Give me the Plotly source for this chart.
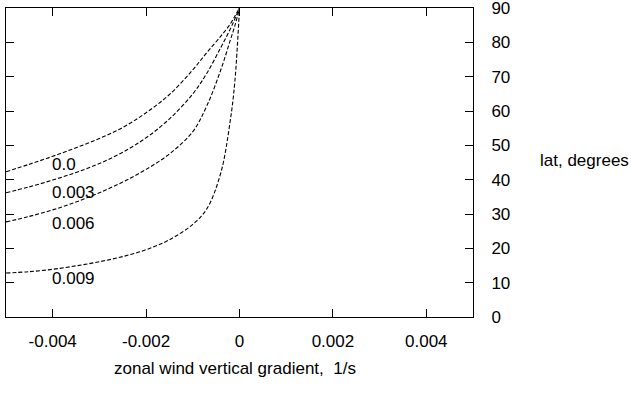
import plotly.graph_objects as go

# shared x grid (zonal wind vertical gradient, 1/s)
grad = [-0.005, -0.0045, -0.004, -0.0035, -0.003, -0.0025, -0.002, -0.0015,
        -0.001, -0.0007, -0.0004, -0.0002, -0.0001, 0.0]

lat_000 = [42.3, 44.5, 46.8, 49.3, 52.0, 55.2, 59.5, 64.8, 72.0, 77.0, 81.8, 85.3, 87.6, 90.0]
lat_003 = [36.2, 37.9, 39.9, 42.1, 44.7, 48.0, 52.2, 57.7, 65.0, 71.0, 78.5, 83.8, 86.8, 90.0]
lat_006 = [27.7, 29.3, 31.2, 33.5, 36.2, 39.3, 43.0, 47.5, 54.0, 61.5, 72.0, 80.5, 84.8, 90.0]
lat_009 = [12.8, 13.2, 13.9, 14.9, 16.1, 17.6, 19.6, 22.5, 27.0, 31.5, 42.0, 57.0, 68.5, 90.0]

curve_labels = ["0.0", "0.003", "0.006", "0.009"]
label_x = [-0.00405, -0.00405, -0.00405, -0.00405]
label_y = [44.3, 36.4, 27.1, 11.1]

x_ticks = [-0.004, -0.002, 0, 0.002, 0.004]
x_ticktext = ["-0.004", "-0.002", "0", "0.002", "0.004"]
y_ticks = [0, 10, 20, 30, 40, 50, 60, 70, 80, 90]

FONT = "Liberation Sans, Arial, sans-serif"
FS = 17

fig = go.Figure()
for ys in [lat_000, lat_003, lat_006, lat_009]:
    fig.add_trace(go.Scatter(x=grad, y=ys, mode="lines",
                             line=dict(color="black", width=1.1, dash="4px,2px",
                                       shape="spline", smoothing=1.0),
                             showlegend=False, hoverinfo="skip"))

for t, lx, ly in zip(curve_labels, label_x, label_y):
    fig.add_annotation(x=lx, y=ly, text=t, showarrow=False, xanchor="left",
                       yanchor="middle", font=dict(size=FS, color="black", family=FONT))

fig.add_annotation(xref="paper", yref="paper", x=0.49, y=-0.13, yanchor="top",
                   text="zonal wind vertical gradient,&nbsp;&nbsp;1/s", showarrow=False,
                   font=dict(size=FS, color="black", family=FONT))
fig.add_annotation(xref="paper", yref="paper", x=1.14, y=0.505, xanchor="left",
                   text="lat, degrees", showarrow=False,
                   font=dict(size=FS, color="black", family=FONT))

fig.update_layout(
    width=631, height=409,
    margin=dict(l=6, r=158, t=8, b=92),
    paper_bgcolor="white", plot_bgcolor="white",
    font=dict(family=FONT, size=FS, color="black"),
    xaxis=dict(range=[-0.005, 0.005], tickvals=x_ticks, ticktext=x_ticktext,
               ticks="inside", ticklen=8, tickcolor="black", showline=True,
               linecolor="black", linewidth=1, mirror="ticks", showgrid=False,
               zeroline=False, ticklabelstandoff=9, automargin=False),
    yaxis=dict(range=[0, 90], tickvals=y_ticks, side="right",
               ticks="inside", ticklen=8, tickcolor="black", showline=True,
               linecolor="black", linewidth=1, mirror="ticks", showgrid=False,
               zeroline=False, ticklabelstandoff=14, ticklabeloverflow="allow",
               automargin=False),
)

fig.write_html("out.html")
